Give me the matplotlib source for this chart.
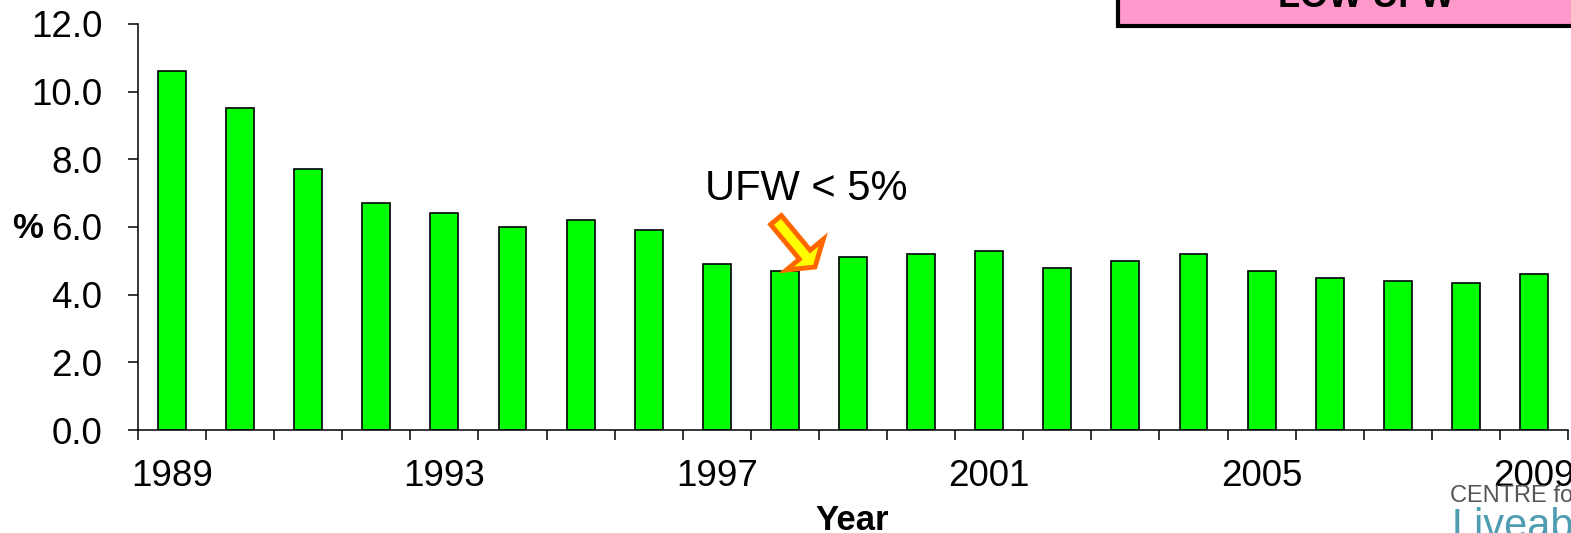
import numpy as np
import matplotlib.pyplot as plt
from matplotlib.patches import Rectangle, FancyArrow

plt.rcParams['font.family'] = ['Liberation Sans', 'DejaVu Sans']

# unaccounted-for water, % per year
years = list(range(1989, 2010))
ufw = [10.6, 9.5, 7.7, 6.7, 6.4, 6.0, 6.2, 5.9, 4.9, 4.7, 5.1,
       5.2, 5.3, 4.8, 5.0, 5.2, 4.7, 4.5, 4.4, 4.35, 4.6]
label_years = [1989, 1993, 1997, 2001, 2005, 2009]

fig = plt.figure(figsize=(15.71, 5.33), dpi=100)
ax = fig.add_axes([138/1571, 1-430/533, (1568-138)/1571, (430-23.8)/533])

x = np.arange(len(years))
ax.bar(x, ufw, width=0.41, color='#00FF00', edgecolor='black', linewidth=1.2, zorder=2)

ax.set_xlim(-0.5, len(years)-0.5)
ax.set_ylim(0, 12)
ax.set_yticks(np.arange(0, 12.1, 2))
ax.set_yticklabels(['%.1f' % v for v in np.arange(0, 12.1, 2)])

ax.set_xticks([years.index(y) for y in label_years])
ax.set_xticklabels([str(y) for y in label_years])
ax.set_xticks(np.arange(-0.5, len(years)), minor=True)
ax.tick_params(axis='x', which='major', length=0, pad=21, labelsize=26.5)
ax.tick_params(axis='x', which='minor', length=7.5, width=1.1, direction='out')
ax.tick_params(axis='y', length=7.5, width=1.1, direction='out', pad=18, labelsize=26.5)

for s in ['top', 'right']:
    ax.spines[s].set_visible(False)
for s in ['left', 'bottom']:
    ax.spines[s].set_linewidth(1.1)

fig.text(28/1571, 1-229/533, '%', fontsize=25, fontweight='bold', ha='center', va='center')
fig.text(852/1571, 1-530/533, 'Year', fontsize=25, fontweight='bold', ha='center', va='baseline')

fig.text(806/1571, 1-200/533, 'UFW < 5%', fontsize=30, ha='center', va='baseline')

# arrow pointing at 1998 bar (drawn in inches so shape is not stretched)
arr = FancyArrow(7.76, (533-220)/100, 0.39, -0.47, width=0.14, head_width=0.48,
                 head_length=0.16, length_includes_head=True,
                 facecolor='#FFFF00', edgecolor='#FF6600', linewidth=3.5,
                 transform=fig.dpi_scale_trans)
fig.patches.append(arr)

# pink box at top right, cut off by the figure edge
box = Rectangle((1118/1571, 1-26/533), 0.5, 0.5, facecolor='#FF99CC',
                edgecolor='black', linewidth=3, transform=fig.transFigure)
fig.patches.append(box)
fig.text(1366/1571, 1-7/533, 'LOW UFW', fontsize=26, fontweight='bold', ha='center', va='baseline')

# logo, cut off at the corner
fig.text(1450/1571, 1-502/533, 'CENTRE for', fontsize=17, color='#555555', va='baseline')
fig.text(1452/1571, 1-507/533, 'Liveable', fontsize=30, color='#4f9db3', va='top')

plt.savefig('out.png', dpi=100)
